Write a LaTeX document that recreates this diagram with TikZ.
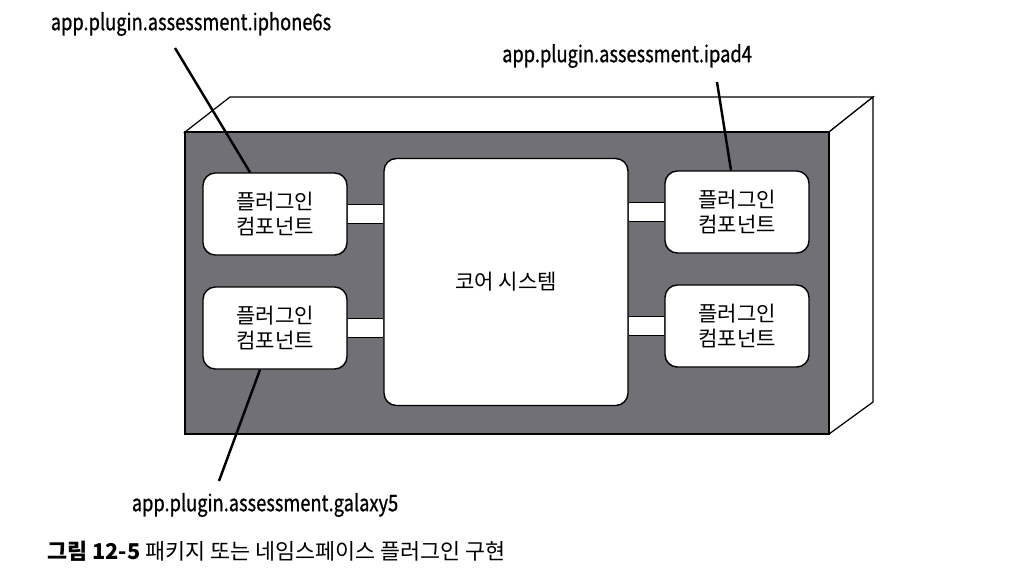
\documentclass[tikz,border=0pt]{standalone}
\usepackage{fontspec}
\setmainfont{Noto Sans CJK KR}
\newfontfamily\pkgfont[FakeStretch=0.8,FakeBold=0.8]{Noto Sans CJK KR}
\usetikzlibrary{positioning}
\definecolor{facegray}{RGB}{112,112,118}

\begin{document}
\begin{tikzpicture}[x=0.02cm,y=-0.02cm,
    plugin/.style={draw,fill=white,line width=0.8pt,rounded corners=7pt,
        minimum width=2.88cm,minimum height=1.64cm,align=center,
        font=\fontsize{12}{13.8}\selectfont},
    core/.style={draw,fill=white,line width=0.8pt,rounded corners=7pt,
        minimum width=4.88cm,minimum height=4.94cm,
        font=\fontsize{12}{13.8}\selectfont},
    bar/.style={draw=black,double=white,double distance=0.36cm,line width=0.7pt,
        shorten <=0.4pt,shorten >=0.4pt},
    leader/.style={line width=1.4pt},
    pkg/.style={font=\pkgfont\fontsize{13}{15}\selectfont,inner sep=0pt}]
    \useasboundingbox (0,0) rectangle (1022,586);
    % box
    \coordinate (F1) at (185,132);
    \coordinate (F2) at (829,132);
    \coordinate (F3) at (829,434);
    \coordinate (F4) at (185,434);
    \coordinate (B1) at (230,97);
    \coordinate (B2) at (873,97);
    \coordinate (B3) at (873,402);
    \draw[fill=white,line width=0.7pt] (F1) -- (B1) -- (B2) -- (F2) -- cycle;
    \draw[fill=white,line width=0.7pt] (F2) -- (B2) -- (B3) -- (F3) -- cycle;
    \draw[fill=facegray,line width=0.7pt] (F1) rectangle (F3);
    % core and plugins
    \node[core] (core) at (506,282) {코어 시스템};
    \node[plugin] (tl) at (275,214) {플러그인\\컴포넌트};
    \node[plugin] (bl) at (275,328) {플러그인\\컴포넌트};
    \node[plugin] (tr) at (737,212) {플러그인\\컴포넌트};
    \node[plugin] (br) at (737,326) {플러그인\\컴포넌트};
    \draw[bar] (tl.east) -- (tl.east -| core.west);
    \draw[bar] (bl.east) -- (bl.east -| core.west);
    \draw[bar] (tr.west) -- (tr.west -| core.east);
    \draw[bar] (br.west) -- (br.west -| core.east);
    % package labels
    \node[pkg] (iphone) at (191,24) {app.plugin.assessment.iphone6s};
    \node[pkg] (ipad) at (627,56) {app.plugin.assessment.ipad4};
    \node[pkg] (galaxy) at (265,505) {app.plugin.assessment.galaxy5};
    \coordinate (P1) at (175,48);
    \coordinate (P2) at (717,82);
    \coordinate (P3) at (219,481);
    \draw[leader] (P1) -- ([xshift=-0.5cm]tl.north);
    \draw[leader] (P2) -- ([xshift=-0.12cm]tr.north);
    \draw[leader] (P3) -- ([xshift=-0.3cm]bl.south);
    % caption
    \node[anchor=west,inner sep=0pt,font=\fontsize{12.4}{15}\selectfont] (caption) at (47,551)
        {\textbf{그림 12-5} 패키지 또는 네임스페이스 플러그인 구현};
\end{tikzpicture}
\end{document}
